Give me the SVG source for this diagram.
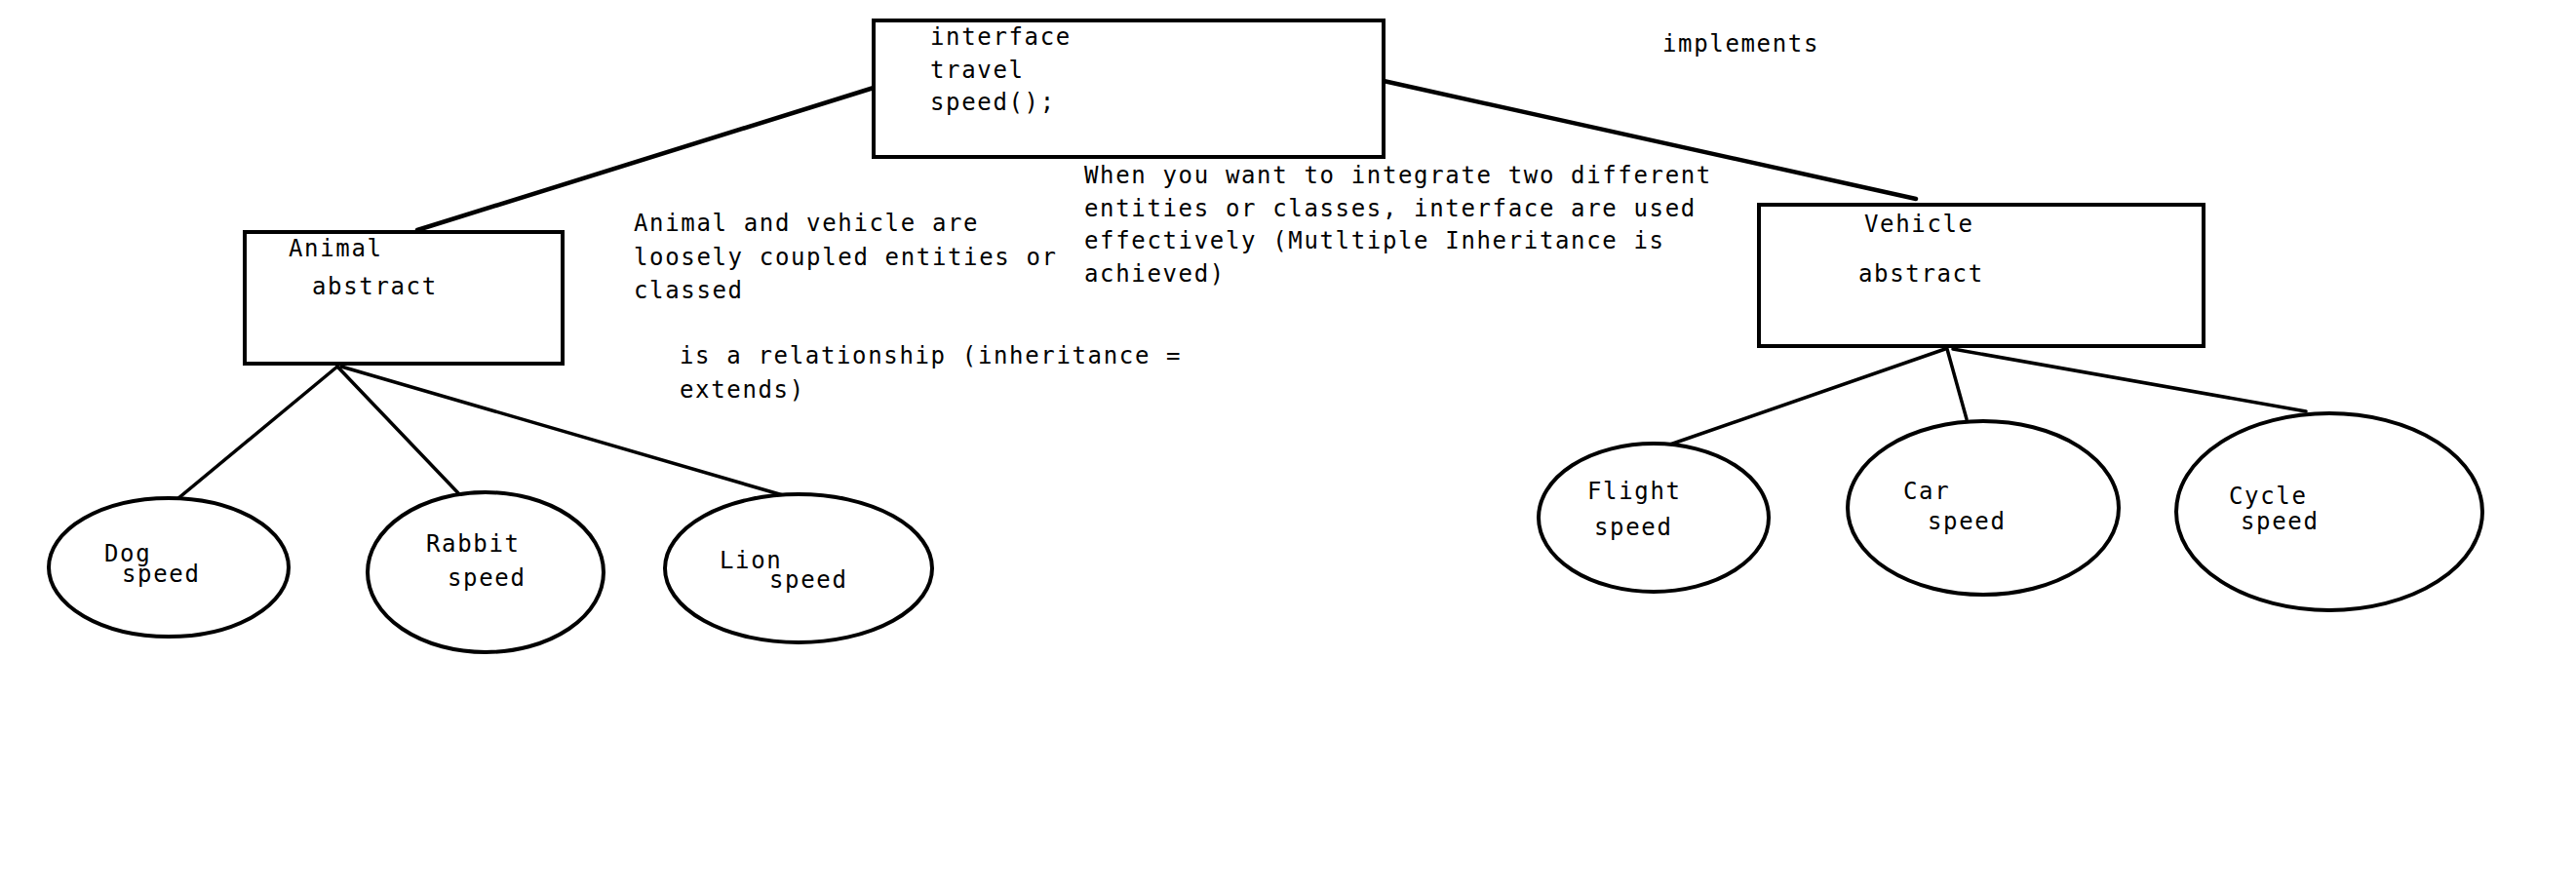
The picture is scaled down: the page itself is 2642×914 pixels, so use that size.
<svg xmlns="http://www.w3.org/2000/svg" width="2642" height="914" viewBox="0 0 2642 914">
  <style>
    .box { fill: #ffffff; stroke: #000000; stroke-width: 4; }
    .oval { fill: #ffffff; stroke: #000000; stroke-width: 4; }
    .conn line { stroke: #000000; stroke-linecap: round; }
    .thick { stroke-width: 4.5; }
    .thin { stroke-width: 3.5; }
    text { font-family: "DejaVu Sans Mono", "Liberation Mono", monospace; font-size: 24px; letter-spacing: 1.65px; fill: #000000; }
  </style>
  <rect x="0" y="0" width="2642" height="914" fill="#ffffff"/>

  <g id="connectors" class="conn">
    <line class="thick" x1="896" y1="90" x2="428" y2="236"/>
    <line class="thick" x1="1419" y1="83" x2="1965" y2="204"/>
    <line class="thin" x1="346" y1="376" x2="183" y2="511"/>
    <line class="thin" x1="346" y1="376" x2="473" y2="509"/>
    <line class="thin" x1="350" y1="376" x2="803" y2="508"/>
    <line class="thin" x1="1995" y1="358" x2="1707" y2="458"/>
    <line class="thin" x1="1997" y1="358" x2="2017" y2="430"/>
    <line class="thin" x1="2003" y1="358" x2="2365" y2="422"/>
  </g>

  <g id="interface">
    <rect class="box" x="896" y="21" width="523" height="140"/>
    <text x="954" y="46">interface</text>
    <text x="954" y="80">travel</text>
    <text x="954" y="113">speed();</text>
  </g>

  <g id="animal">
    <rect class="box" x="251" y="238" width="326" height="135"/>
    <text x="296" y="263">Animal</text>
    <text x="320" y="302">abstract</text>
  </g>

  <g id="vehicle">
    <rect class="box" x="1804" y="210" width="456" height="145"/>
    <text x="1912" y="238">Vehicle</text>
    <text x="1906" y="289">abstract</text>
  </g>

  <g id="dog">
    <ellipse class="oval" cx="173" cy="582" rx="123" ry="71"/>
    <text x="107" y="576">Dog</text>
    <text x="125" y="597">speed</text>
  </g>

  <g id="rabbit">
    <ellipse class="oval" cx="498" cy="587" rx="121" ry="82"/>
    <text x="437" y="566">Rabbit</text>
    <text x="459" y="601">speed</text>
  </g>

  <g id="lion">
    <ellipse class="oval" cx="819" cy="583" rx="137" ry="76"/>
    <text x="738" y="583">Lion</text>
    <text x="789" y="603">speed</text>
  </g>

  <g id="flight">
    <ellipse class="oval" cx="1696" cy="531" rx="118" ry="76"/>
    <text x="1628" y="512">Flight</text>
    <text x="1635" y="549">speed</text>
  </g>

  <g id="car">
    <ellipse class="oval" cx="2034" cy="521" rx="139" ry="89"/>
    <text x="1952" y="512">Car</text>
    <text x="1977" y="543">speed</text>
  </g>

  <g id="cycle">
    <ellipse class="oval" cx="2389" cy="525" rx="157" ry="101"/>
    <text x="2286" y="517">Cycle</text>
    <text x="2298" y="543">speed</text>
  </g>

  <g id="notes">
    <text x="1705" y="53">implements</text>
    <text x="1112" y="188">When you want to integrate two different</text>
    <text x="1112" y="222">entities or classes, interface are used</text>
    <text x="1112" y="255">effectively (Mutltiple Inheritance is</text>
    <text x="1112" y="289">achieved)</text>
    <text x="650" y="237">Animal and vehicle are</text>
    <text x="650" y="272">loosely coupled entities or</text>
    <text x="650" y="306">classed</text>
    <text x="697" y="373">is a relationship (inheritance =</text>
    <text x="697" y="408">extends)</text>
  </g>
</svg>
